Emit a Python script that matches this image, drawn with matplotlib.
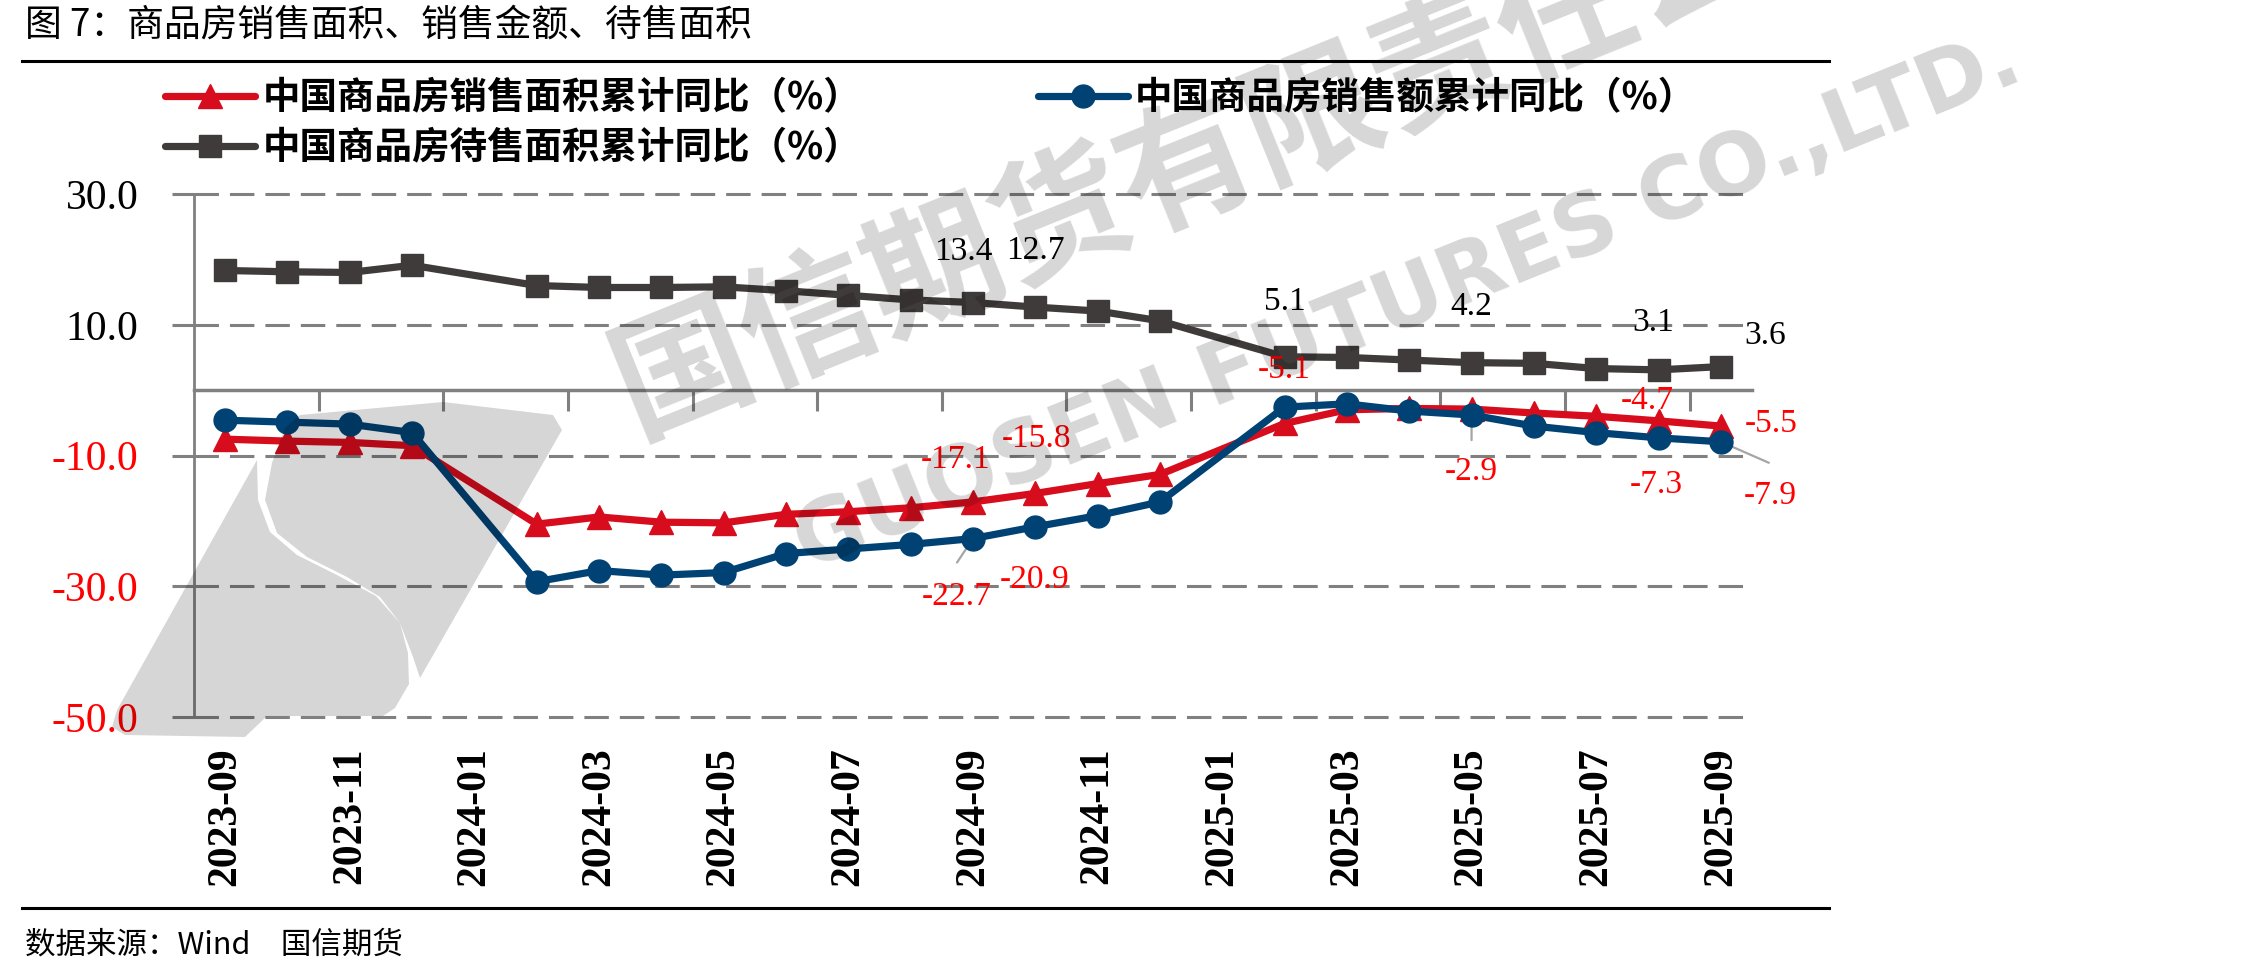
import numpy as np
import matplotlib
matplotlib.use("Agg")
import matplotlib.pyplot as plt
from matplotlib.lines import Line2D
from matplotlib.patches import Polygon
from matplotlib.font_manager import FontProperties
from matplotlib.ticker import NullFormatter

# ---------------- data ----------------
months = ["2023-09", "2023-10", "2023-11", "2023-12", "2024-01", "2024-02",
          "2024-03", "2024-04", "2024-05", "2024-06", "2024-07", "2024-08",
          "2024-09", "2024-10", "2024-11", "2024-12", "2025-01", "2025-02",
          "2025-03", "2025-04", "2025-05", "2025-06", "2025-07", "2025-08",
          "2025-09"]
nan = np.nan
sales_area = [-7.5, -7.8, -8.0, -8.5, nan, -20.5, -19.4, -20.2, -20.3, -19.0,
              -18.6, -18.0, -17.1, -15.8, -14.3, -12.9, nan, -5.1, -3.0, -2.8,
              -2.9, -3.5, -4.0, -4.7, -5.5]
sales_amount = [-4.6, -4.9, -5.2, -6.5, nan, -29.3, -27.6, -28.3, -27.9, -25.0,
                -24.3, -23.6, -22.7, -20.9, -19.2, -17.1, nan, -2.6, -2.1, -3.2,
                -3.8, -5.5, -6.5, -7.3, -7.9]
pending_area = [18.3, 18.1, 18.0, 19.1, nan, 16.0, 15.7, 15.7, 15.8, 15.2,
                14.5, 13.8, 13.4, 12.7, 12.1, 10.6, nan, 5.1, 5.0, 4.6,
                4.2, 4.1, 3.3, 3.1, 3.6]
series_names = ["中国商品房销售面积累计同比（%）",
                "中国商品房销售额累计同比（%）",
                "中国商品房待售面积累计同比（%）"]
y_ticks = [-50, -30, -10, 10, 30]
title = "图 7：商品房销售面积、销售金额、待售面积"
source = "数据来源：Wind\u3000国信期货"

# indices of points that carry a data label
label_idx_area = [12, 13, 17, 20, 23, 24]
label_idx_amount = [12, 13, 23, 24]
label_idx_pending = [12, 13, 17, 20, 23, 24]

# ---------------- layout helpers ----------------
W, H = 2244, 977
fig = plt.figure(figsize=(W / 100, H / 100), dpi=100)
fig.patch.set_facecolor("white")


def fx(x):
    return x / W


def fy(y):
    return 1 - y / H


CJK = ["Noto Sans CJK SC", "DejaVu Sans"]
SERIF = "Liberation Serif"
RED = "#D70C1C"
BLUE = "#004274"
GRAY = "#3F3B3A"
GRID = "#808080"
LABEL_RED = "#FF0000"

ax = fig.add_axes([fx(194), fy(717), (1752 - 194) / W, (717 - 194) / H])
ax.set_facecolor("white")

x = np.arange(len(months))


def draw(vals, color, marker, ms, z):
    v = np.asarray(vals, float)
    m = ~np.isnan(v)
    return ax.plot(x[m], v[m], color=color, lw=5.2, marker=marker, ms=ms,
                   mfc=color, mec=color, solid_joinstyle="round",
                   solid_capstyle="round", zorder=z)[0]


h_red = draw(sales_area, RED, "^", 17, 3)
h_blue = draw(sales_amount, BLUE, "o", 16.5, 4)
h_gray = draw(pending_area, GRAY, "s", 16, 5)

ax.set_xlim(-0.5, len(months) - 0.5)
ax.set_ylim(-50, 30)

# y axis
ax.set_yticks(y_ticks)
ax.set_yticklabels([f"{t:.1f}" for t in y_ticks])
for lab, t in zip(ax.get_yticklabels(), y_ticks):
    lab.set_color(LABEL_RED if t < 0 else "black")
    lab.set_fontfamily(SERIF)
    lab.set_fontsize(30)
ax.tick_params(axis="y", length=16, width=2.2, color=GRID, pad=24)
ax.yaxis.grid(True, color=GRID, lw=2.2, linestyle=(0, (8, 3.6)))
for gl in ax.get_ygridlines():
    gl.set_clip_on(False)
ax.set_axisbelow(True)

# x axis: labels at the bottom
ax.set_xticks(x[::2])
ax.set_xticklabels(months[::2], rotation=90, fontsize=30, fontweight="bold",
                   fontfamily=SERIF)
ax.tick_params(axis="x", length=0, pad=22)

for s in ["top", "right", "bottom"]:
    ax.spines[s].set_visible(False)
ax.spines["left"].set_color(GRID)
ax.spines["left"].set_linewidth(2)

# horizontal axis line at y = 0 with tick marks between categories
sec = ax.secondary_xaxis(0, transform=ax.transData)
sec.set_xticks(np.arange(1.5, len(months) - 1, 2))
sec.xaxis.set_major_formatter(NullFormatter())
sec.tick_params(axis="x", length=15, width=2.2, color=GRID, direction="out")
for s in sec.spines.values():
    s.set_color(GRID)
    s.set_linewidth(2.5)

# ---------------- data labels ----------------
PX = 1 / 1.389  # pixel -> point


def put_label(vals, i, dx, dy, color):
    v = vals[i]
    ax.annotate(f"{v:.1f}", (i, v), xytext=(dx * PX, -dy * PX),
                textcoords="offset points", ha="center", va="center",
                fontsize=24, fontfamily=SERIF, color=color, zorder=6)


def leader(vals, i, dx, dy):
    v = vals[i]
    ax.annotate("", (i, v), xytext=(dx * PX, -dy * PX),
                textcoords="offset points",
                arrowprops=dict(arrowstyle="-", color="#A5A5A5", lw=1.6,
                                shrinkA=0, shrinkB=0), zorder=2.5)


off_pending = {12: (-10, -51), 13: (0, -56), 17: (0, -55), 20: (0, -56),
               23: (-5, -47), 24: (44, -31)}
off_area = {12: (-17, -42), 13: (1, -55), 17: (0, -54), 20: (0, 63),
            23: (-11, -20), 24: (50, -2)}
off_amount = {12: (-16, 58), 13: (-1, 53), 23: (-2, 47), 24: (49, 54)}

for i in label_idx_pending:
    put_label(pending_area, i, *off_pending[i], "black")
for i in label_idx_area:
    put_label(sales_area, i, *off_area[i], LABEL_RED)
for i in label_idx_amount:
    put_label(sales_amount, i, *off_amount[i], LABEL_RED)

leader(sales_amount, 12, -16, 24)
leader(sales_area, 20, 0, 31)
leader(sales_amount, 24, 48, 21)

# ---------------- legend ----------------
fig.legend([h_red, h_gray, h_blue],
           [series_names[0], series_names[2], series_names[1]],
           ncol=2, loc="upper left", bbox_to_anchor=(fx(165), fy(78)),
           frameon=False, borderpad=0, borderaxespad=0, handlelength=2.4,
           handletextpad=0.2, columnspacing=4.7, labelspacing=0.3,
           prop=FontProperties(family="Noto Sans CJK SC", weight="bold",
                               size=27))

# ---------------- title, rules, source ----------------
fig.text(fx(25), fy(25), title, ha="left", va="center", fontsize=26.5,
         fontfamily=CJK)
fig.text(fx(25), fy(945), source, ha="left", va="center", fontsize=22,
         fontfamily=CJK)
fig.add_artist(Line2D([fx(22), fx(1829)], [fy(61), fy(61)], color="black",
                      lw=2.2, transform=fig.transFigure))
fig.add_artist(Line2D([fx(22), fx(1829)], [fy(908), fy(908)], color="black",
                      lw=2.2, transform=fig.transFigure))

# ---------------- watermark ----------------
WM = (0, 0, 0, 0.16)
fig.text(fx(1252), fy(143), "国信期货有限责任公司", rotation=22,
         rotation_mode="anchor", ha="center", va="center", fontsize=98,
         fontweight="bold", color=WM, fontfamily=CJK, zorder=10)
fig.text(fx(1408), fy(303), "GUOSEN FUTURES CO.,LTD.", rotation=22,
         rotation_mode="anchor", ha="center", va="center", fontsize=62,
         fontweight="bold", color=WM, fontfamily="DejaVu Sans", zorder=10)

right_piece = [(443, 402), (553, 415), (562, 430), (420, 678), (413, 657),
               (400, 623), (380, 597), (347, 577), (307, 557), (277, 533),
               (265, 500), (272, 463), (285, 428), (300, 415)]
left_piece = [(257, 460), (258, 500), (270, 532), (297, 555), (337, 575),
              (376, 596), (400, 623), (408, 653), (409, 684), (395, 708),
              (383, 716), (267, 716), (245, 737), (125, 735), (112, 727),
              (117, 710)]
for piece in (right_piece, left_piece):
    fig.add_artist(Polygon([(fx(a), fy(b)) for a, b in piece], closed=True,
                           fc=WM, ec="none", transform=fig.transFigure,
                           zorder=10))

fig.savefig("out.png", dpi=100)
